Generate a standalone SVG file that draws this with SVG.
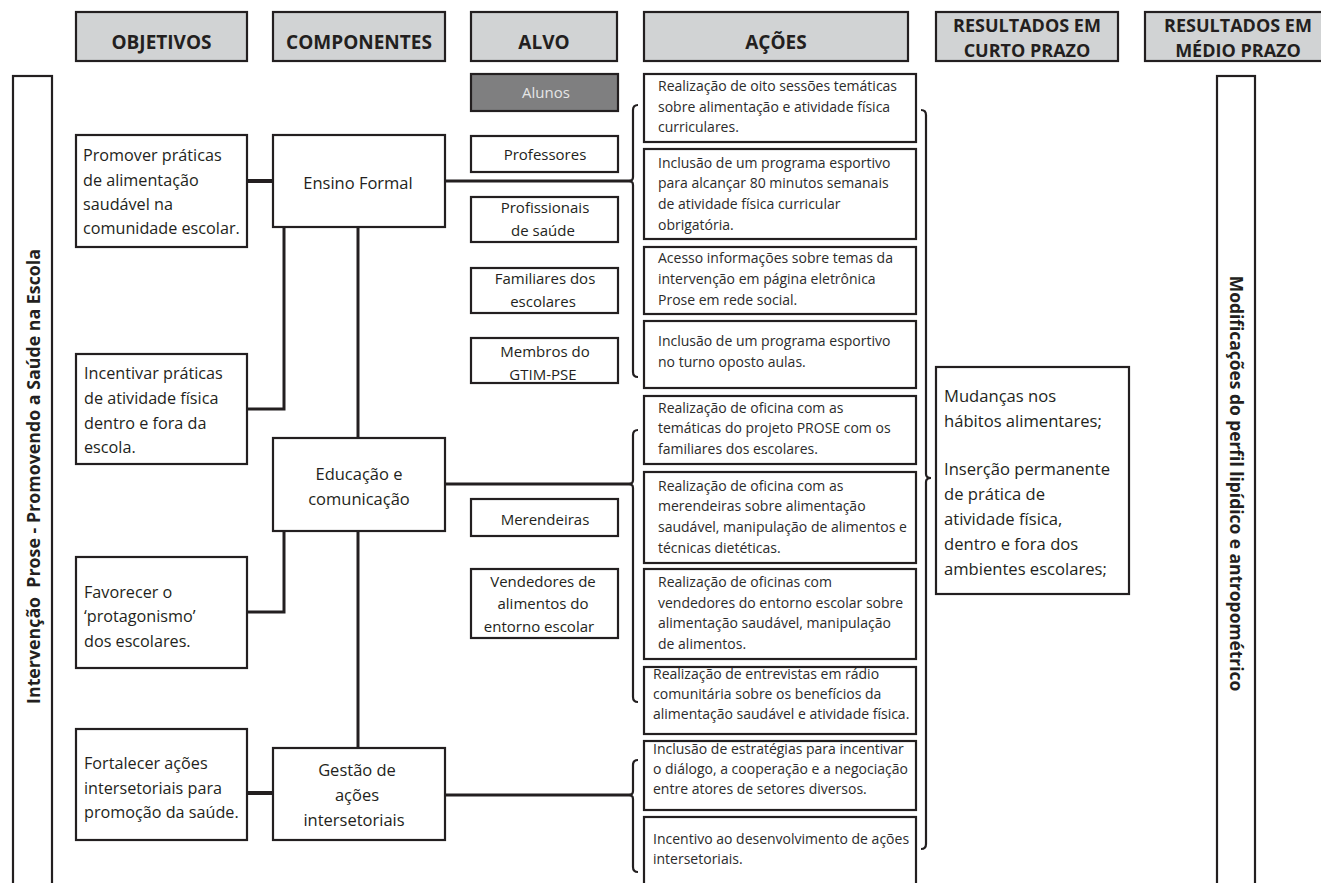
<svg xmlns="http://www.w3.org/2000/svg" width="1321" height="883" viewBox="0 0 1321 883">
<style>
.hdr{fill:#d1d3d4;stroke:#231f20;stroke-width:2.2}
.box{fill:#fff;stroke:#231f20;stroke-width:2.2}
.ht{font-family:"Open Sans","Noto Sans",sans-serif;font-weight:700;font-size:19px;fill:#231f20;text-anchor:middle}
.ht2{font-family:"Open Sans","Noto Sans",sans-serif;font-weight:700;font-size:18px;fill:#231f20;text-anchor:middle}
.t16{font-family:"Open Sans","Noto Sans",sans-serif;font-size:16.2px;fill:#231f20}
.tc{font-family:"Open Sans","Noto Sans",sans-serif;font-size:16.5px;fill:#231f20;text-anchor:middle}
.ta{font-family:"Open Sans","Noto Sans",sans-serif;font-size:15px;fill:#231f20;text-anchor:middle}
.tx{font-family:"Open Sans","Noto Sans",sans-serif;font-size:14px;fill:#2b2b2b}
.tr{font-family:"Open Sans","Noto Sans",sans-serif;font-size:16.6px;fill:#231f20}
.vt{font-family:"Open Sans","Noto Sans",sans-serif;font-weight:700;font-size:17.8px;fill:#231f20;text-anchor:middle}
.ln{fill:none;stroke:#231f20;stroke-width:3}
.lk{fill:none;stroke:#231f20;stroke-width:4}
.br{fill:none;stroke:#231f20;stroke-width:2.2}
</style>

<g id="headers">
  <rect class="hdr" x="76" y="12" width="171" height="49"/>
  <text class="ht" x="161.5" y="49">OBJETIVOS</text>
  <rect class="hdr" x="273" y="12" width="172" height="49"/>
  <text class="ht" x="359" y="49">COMPONENTES</text>
  <rect class="hdr" x="471" y="12" width="146" height="49"/>
  <text class="ht" x="544" y="49">ALVO</text>
  <rect class="hdr" x="644" y="12" width="264" height="49"/>
  <text class="ht" x="776" y="49">AÇÕES</text>
  <rect class="hdr" x="936" y="12" width="182" height="49"/>
  <text class="ht2" x="1027" y="32.3">RESULTADOS EM</text>
  <text class="ht2" x="1027" y="57">CURTO PRAZO</text>
  <rect class="hdr" x="1145" y="12" width="190" height="49"/>
  <text class="ht2" x="1238" y="32.3">RESULTADOS EM</text>
  <text class="ht2" x="1238" y="57">MÉDIO PRAZO</text>
</g>

<g id="intervencao">
  <rect class="box" x="13" y="76" width="39" height="830"/>
  <text class="vt" transform="translate(39.5,476.5) rotate(-90)">Intervenção&#160; Prose - Promovendo a Saúde na Escola</text>
</g>

<g id="modificacoes">
  <rect class="box" x="1217" y="76" width="38" height="830"/>
  <text class="vt" style="font-size:17.4px" transform="translate(1230,483.5) rotate(90)">Modificações do perfil lipídico e antropométrico</text>
</g>

<g id="connectors">
  <line class="lk" x1="247" y1="181" x2="273" y2="181"/>
  <line class="ln" x1="445" y1="181" x2="631" y2="181"/>
  <line class="ln" x1="358" y1="227" x2="358" y2="438"/>
  <polyline class="ln" points="284,227 284,409 247,409"/>
  <line class="ln" x1="445" y1="484" x2="631" y2="484"/>
  <line class="ln" x1="358" y1="531" x2="358" y2="748"/>
  <polyline class="ln" points="284,531 284,612 247,612"/>
  <line class="lk" x1="247" y1="793" x2="273" y2="793"/>
  <line class="ln" x1="445" y1="795" x2="631" y2="795"/>
  <path class="br" d="M638,105 Q633,105 633,110 L633,177 Q633,181 629,181 Q633,181 633,185 L633,372 Q633,377 638,377"/>
  <path class="br" d="M638,430 Q633,430 633,435 L633,480 Q633,484 629,484 Q633,484 633,488 L633,697 Q633,702 638,702"/>
  <path class="br" d="M638,760 Q633,760 633,765 L633,791 Q633,795 629,795 Q633,795 633,799 L633,867 Q633,872 638,872"/>
  <path class="br" d="M921,110 Q926,110 926,115 L926,474 Q926,478 931,478 Q926,478 926,482 L926,844 Q926,849 921,849"/>
</g>

<g id="obj-promover">
  <rect class="box" x="76" y="135" width="171" height="112"/>
  <text class="t16" x="83" y="161">Promover práticas</text>
  <text class="t16" x="83" y="186">de alimentação</text>
  <text class="t16" x="83" y="210">saudável na</text>
  <text class="t16" x="83" y="234">comunidade escolar.</text>
</g>
<g id="obj-incentivar">
  <rect class="box" x="76" y="354" width="171" height="110"/>
  <text class="t16" x="84" y="379">Incentivar práticas</text>
  <text class="t16" x="84" y="404">de atividade física</text>
  <text class="t16" x="84" y="429">dentro e fora da</text>
  <text class="t16" x="84" y="453">escola.</text>
</g>
<g id="obj-favorecer">
  <rect class="box" x="76" y="557" width="171" height="111"/>
  <text class="t16" x="84" y="598">Favorecer o</text>
  <text class="t16" x="84" y="622">‘protagonismo’</text>
  <text class="t16" x="84" y="647">dos escolares.</text>
</g>
<g id="obj-fortalecer">
  <rect class="box" x="76" y="729" width="171" height="111"/>
  <text class="t16" x="84" y="769">Fortalecer ações</text>
  <text class="t16" x="84" y="794">intersetoriais para</text>
  <text class="t16" x="84" y="818">promoção da saúde.</text>
</g>

<g id="comp-ensino">
  <rect class="box" x="273" y="135" width="172" height="92"/>
  <text class="tc" x="358" y="189">Ensino Formal</text>
</g>
<g id="comp-educacao">
  <rect class="box" x="273" y="438" width="172" height="93"/>
  <text class="tc" x="359" y="480">Educação e</text>
  <text class="tc" x="359" y="505">comunicação</text>
</g>
<g id="comp-gestao">
  <rect class="box" x="273" y="748" width="172" height="92"/>
  <text class="tc" x="357" y="776">Gestão de</text>
  <text class="tc" x="357" y="801">ações</text>
  <text class="tc" x="354" y="826">intersetoriais</text>
</g>

<g id="alvo-alunos">
  <rect x="471" y="74" width="147" height="37" fill="#7f7f80" stroke="#231f20" stroke-width="2.2"/>
  <text class="ta" x="546" y="98" style="fill:#e6e6e6">Alunos</text>
</g>
<g id="alvo-professores">
  <rect class="box" x="471" y="136" width="147" height="36"/>
  <text class="ta" x="545" y="160">Professores</text>
</g>
<g id="alvo-profissionais">
  <rect class="box" x="471" y="197" width="147" height="45"/>
  <text class="ta" x="545" y="213">Profissionais</text>
  <text class="ta" x="543" y="236">de saúde</text>
</g>
<g id="alvo-familiares">
  <rect class="box" x="471" y="268" width="147" height="45"/>
  <text class="ta" x="545" y="284">Familiares dos</text>
  <text class="ta" x="543" y="307">escolares</text>
</g>
<g id="alvo-membros">
  <rect class="box" x="471" y="338" width="147" height="45"/>
  <text class="ta" x="545" y="357">Membros do</text>
  <text class="ta" x="543" y="380">GTIM-PSE</text>
</g>
<g id="alvo-merendeiras">
  <rect class="box" x="471" y="499" width="147" height="37"/>
  <text class="ta" x="545" y="525">Merendeiras</text>
</g>
<g id="alvo-vendedores">
  <rect class="box" x="471" y="569" width="147" height="69"/>
  <text class="ta" x="543" y="587">Vendedores de</text>
  <text class="ta" x="543" y="609">alimentos do</text>
  <text class="ta" x="539" y="632">entorno escolar</text>
</g>

<g id="acao-1">
  <rect class="box" x="644" y="74" width="272" height="68"/>
  <text class="tx" x="658" y="91">Realização de oito sessões temáticas</text>
  <text class="tx" x="658" y="112">sobre alimentação e atividade física</text>
  <text class="tx" x="658" y="132">curriculares.</text>
</g>
<g id="acao-2">
  <rect class="box" x="644" y="149" width="272" height="90"/>
  <text class="tx" x="658" y="168">Inclusão de um programa esportivo</text>
  <text class="tx" x="658" y="188">para alcançar 80 minutos semanais</text>
  <text class="tx" x="658" y="209">de atividade física curricular</text>
  <text class="tx" x="658" y="230">obrigatória.</text>
</g>
<g id="acao-3">
  <rect class="box" x="644" y="247" width="272" height="67"/>
  <text class="tx" x="658" y="263">Acesso informações sobre temas da</text>
  <text class="tx" x="658" y="284">intervenção em página eletrônica</text>
  <text class="tx" x="658" y="305">Prose em rede social.</text>
</g>
<g id="acao-4">
  <rect class="box" x="644" y="321" width="272" height="67"/>
  <text class="tx" x="658" y="346">Inclusão de um programa esportivo</text>
  <text class="tx" x="658" y="367">no turno oposto aulas.</text>
</g>
<g id="acao-5">
  <rect class="box" x="644" y="396" width="272" height="68"/>
  <text class="tx" x="658" y="413">Realização de oficina com as</text>
  <text class="tx" x="658" y="433">temáticas do projeto PROSE com os</text>
  <text class="tx" x="658" y="454">familiares dos escolares.</text>
</g>
<g id="acao-6">
  <rect class="box" x="644" y="472" width="272" height="91"/>
  <text class="tx" x="658" y="491">Realização de oficina com as</text>
  <text class="tx" x="658" y="511">merendeiras sobre alimentação</text>
  <text class="tx" x="658" y="532">saudável, manipulação de alimentos e</text>
  <text class="tx" x="658" y="553">técnicas dietéticas.</text>
</g>
<g id="acao-7">
  <rect class="box" x="644" y="569" width="272" height="90"/>
  <text class="tx" x="658" y="587">Realização de oficinas com</text>
  <text class="tx" x="658" y="608">vendedores do entorno escolar sobre</text>
  <text class="tx" x="658" y="628">alimentação saudável, manipulação</text>
  <text class="tx" x="658" y="649">de alimentos.</text>
</g>
<g id="acao-8">
  <rect class="box" x="644" y="667" width="272" height="67"/>
  <text class="tx" x="653" y="679">Realização de entrevistas em rádio</text>
  <text class="tx" x="653" y="699">comunitária sobre os benefícios da</text>
  <text class="tx" x="653" y="719">alimentação saudável e atividade física.</text>
</g>
<g id="acao-9">
  <rect class="box" x="644" y="741" width="272" height="69"/>
  <text class="tx" x="653" y="754">Inclusão de estratégias para incentivar</text>
  <text class="tx" x="653" y="774">o diálogo, a cooperação e a negociação</text>
  <text class="tx" x="653" y="794">entre atores de setores diversos.</text>
</g>
<g id="acao-10">
  <rect class="box" x="644" y="817" width="272" height="80"/>
  <text class="tx" x="653" y="844">Incentivo ao desenvolvimento de ações</text>
  <text class="tx" x="653" y="864">intersetoriais.</text>
</g>

<g id="resultados-curto">
  <rect class="box" x="936" y="367" width="193" height="227"/>
  <text class="tr" x="944" y="402">Mudanças nos</text>
  <text class="tr" x="944" y="427">hábitos alimentares;</text>
  <text class="tr" x="944" y="475">Inserção permanente</text>
  <text class="tr" x="944" y="500">de prática de</text>
  <text class="tr" x="944" y="525">atividade física,</text>
  <text class="tr" x="944" y="550">dentro e fora dos</text>
  <text class="tr" x="944" y="575">ambientes escolares;</text>
</g>
</svg>
